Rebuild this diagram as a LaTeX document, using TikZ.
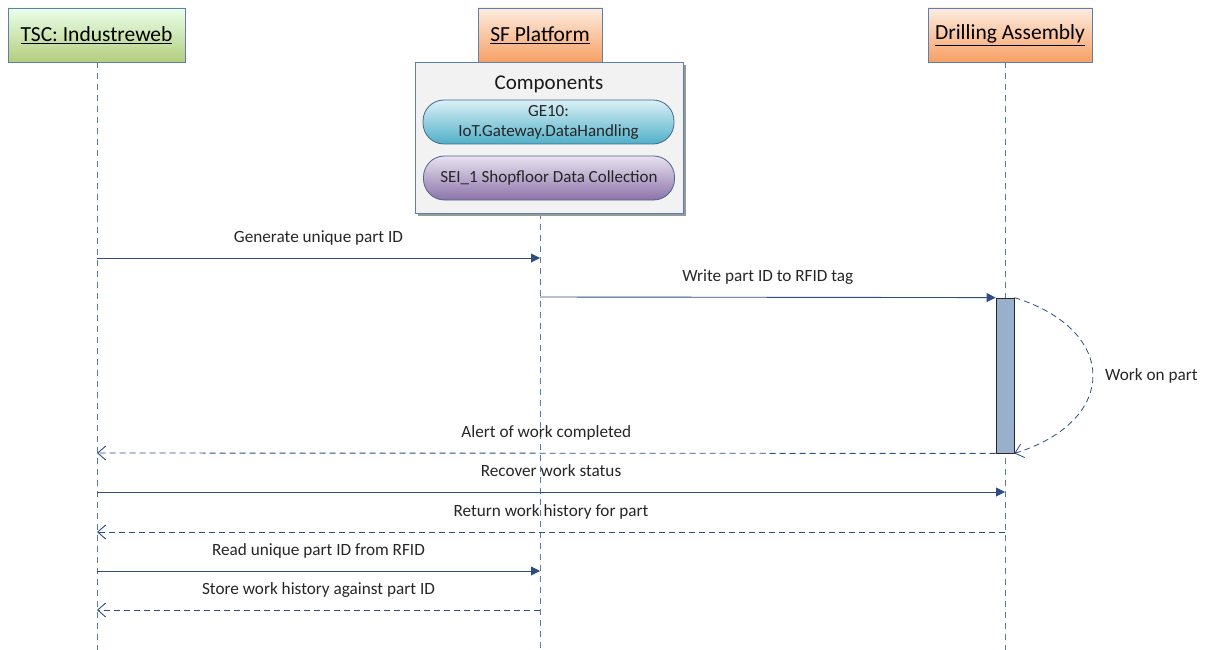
\documentclass[tikz,border=0pt]{standalone}
\usepackage{fontspec}
\setmainfont{Carlito}
\usetikzlibrary{arrows.meta}
\definecolor{lifeline}{HTML}{5A7BAA}
\definecolor{msg}{HTML}{2C4E82}
\definecolor{boxline}{HTML}{5B7FB0}
\begin{document}
\begin{tikzpicture}[x=1pt,y=-1pt,
  every node/.style={font=\fontsize{17.2}{20}\selectfont},
  actor/.style={draw=boxline,line width=0.8pt,shading=axis,minimum height=54pt,
    font=\fontsize{21.5}{24}\selectfont,inner sep=0pt},
  lifelinestyle/.style={draw=lifeline,dash pattern=on 6pt off 5pt,line width=0.8pt},
  call/.style={draw=msg,line width=0.9pt,-{Triangle[length=9pt,width=9pt]}},
  reply/.style={draw=msg,line width=0.9pt,dash pattern=on 6pt off 4pt,-{Straight Barb[length=8pt,width=14pt]}},
  lbl/.style={text=black!85,inner sep=0pt,anchor=base,yshift=16pt},
  pill/.style={rounded corners=21pt,draw=boxline!80!black,line width=0.8pt,shading=axis,
    minimum width=251pt,minimum height=44pt,inner sep=0pt,align=center,text=black!85,
    font=\fontsize{17}{20}\selectfont}]
\useasboundingbox (0,0) rectangle (1208,650);

% participants
\node[actor,top color=green!8!white,bottom color={rgb,255:red,180;green,205;blue,125},
  minimum width=177pt] (tsc) at (96.5,35) {\underline{TSC: Industreweb}};
\node[actor,top color={rgb,255:red,253;green,236;blue,224},bottom color={rgb,255:red,247;green,160;blue,100},
  minimum width=124pt] (sf) at (540,35) {\underline{SF Platform}};
\node[actor,top color={rgb,255:red,253;green,236;blue,224},bottom color={rgb,255:red,247;green,160;blue,100},
  minimum width=164pt] (da) at (1010,35) {\underline{Drilling Assembly}};

% lifelines
\coordinate (tscend) at (97,650);
\coordinate (sfend) at (540,650);
\coordinate (daend) at (1005,650);
\coordinate (tsctop) at (97,62);
\coordinate (sftop) at (540,213);
\coordinate (datop) at (1005,62);
\draw[lifelinestyle] (tsctop) -- (tscend);
\draw[lifelinestyle] (sftop) -- (sfend);
\draw[lifelinestyle] (datop) -- (daend);

% components panel of the platform
\fill[black!40] (418,65) rectangle (686,216);
\node[draw=boxline,line width=0.8pt,fill=black!5,minimum width=268pt,minimum height=151pt,
  inner sep=0pt] (comp) at (549,137.5) {};
\node[font=\fontsize{21}{24}\selectfont,text=black!90] (comptitle) at (549,84) {Components};
\node[pill,top color={rgb,255:red,218;green,240;blue,246},bottom color={rgb,255:red,80;green,176;blue,200}]
  (ge) at (548.5,122) {GE10:\\IoT.Gateway.DataHandling};
\node[pill,top color={rgb,255:red,232;green,226;blue,240},bottom color={rgb,255:red,140;green,115;blue,170}]
  (sei) at (549,178) {SEI\_1 Shopfloor Data Collection};

% activation bar
\node[draw=black!85,fill={rgb,255:red,152;green,176;blue,206},line width=0.8pt,
  minimum width=18pt,minimum height=155pt,inner sep=0pt] (act) at (1005,375.5) {};

% messages
\coordinate (m1a) at (97,258);  \coordinate (m1b) at (540,258);
\draw[call] (m1a) -- (m1b) node[lbl,midway] {Generate unique part ID};

\coordinate (m2a) at (540,297);
\draw[call] (m2a) -- (act.north west) node[lbl,midway] {Write part ID to RFID tag};

\draw[draw=msg,line width=0.8pt,dash pattern=on 6pt off 4pt,-{Straight Barb[length=8pt,width=14pt]}]
  (act.north east) .. controls (1119,330) and (1119,421) .. (act.south east);
\node[text=black!85,inner sep=0pt,anchor=west] (work) at (1105,376) {Work on part};

\coordinate (m3b) at (97,453);
\draw[reply] (act.south west) -- (m3b) node[lbl,midway] {Alert of work completed};

\coordinate (m4a) at (97,492);  \coordinate (m4b) at (1005,492);
\draw[call] (m4a) -- (m4b) node[lbl,midway] {Recover work status};

\coordinate (m5a) at (1005,532);  \coordinate (m5b) at (97,532);
\draw[reply] (m5a) -- (m5b) node[lbl,midway] {Return work history for part};

\coordinate (m6a) at (97,571);  \coordinate (m6b) at (540,571);
\draw[call] (m6a) -- (m6b) node[lbl,midway] {Read unique part ID from RFID};

\coordinate (m7a) at (540,610);  \coordinate (m7b) at (97,610);
\draw[reply] (m7a) -- (m7b) node[lbl,midway] {Store work history against part ID};
\end{tikzpicture}
\end{document}
